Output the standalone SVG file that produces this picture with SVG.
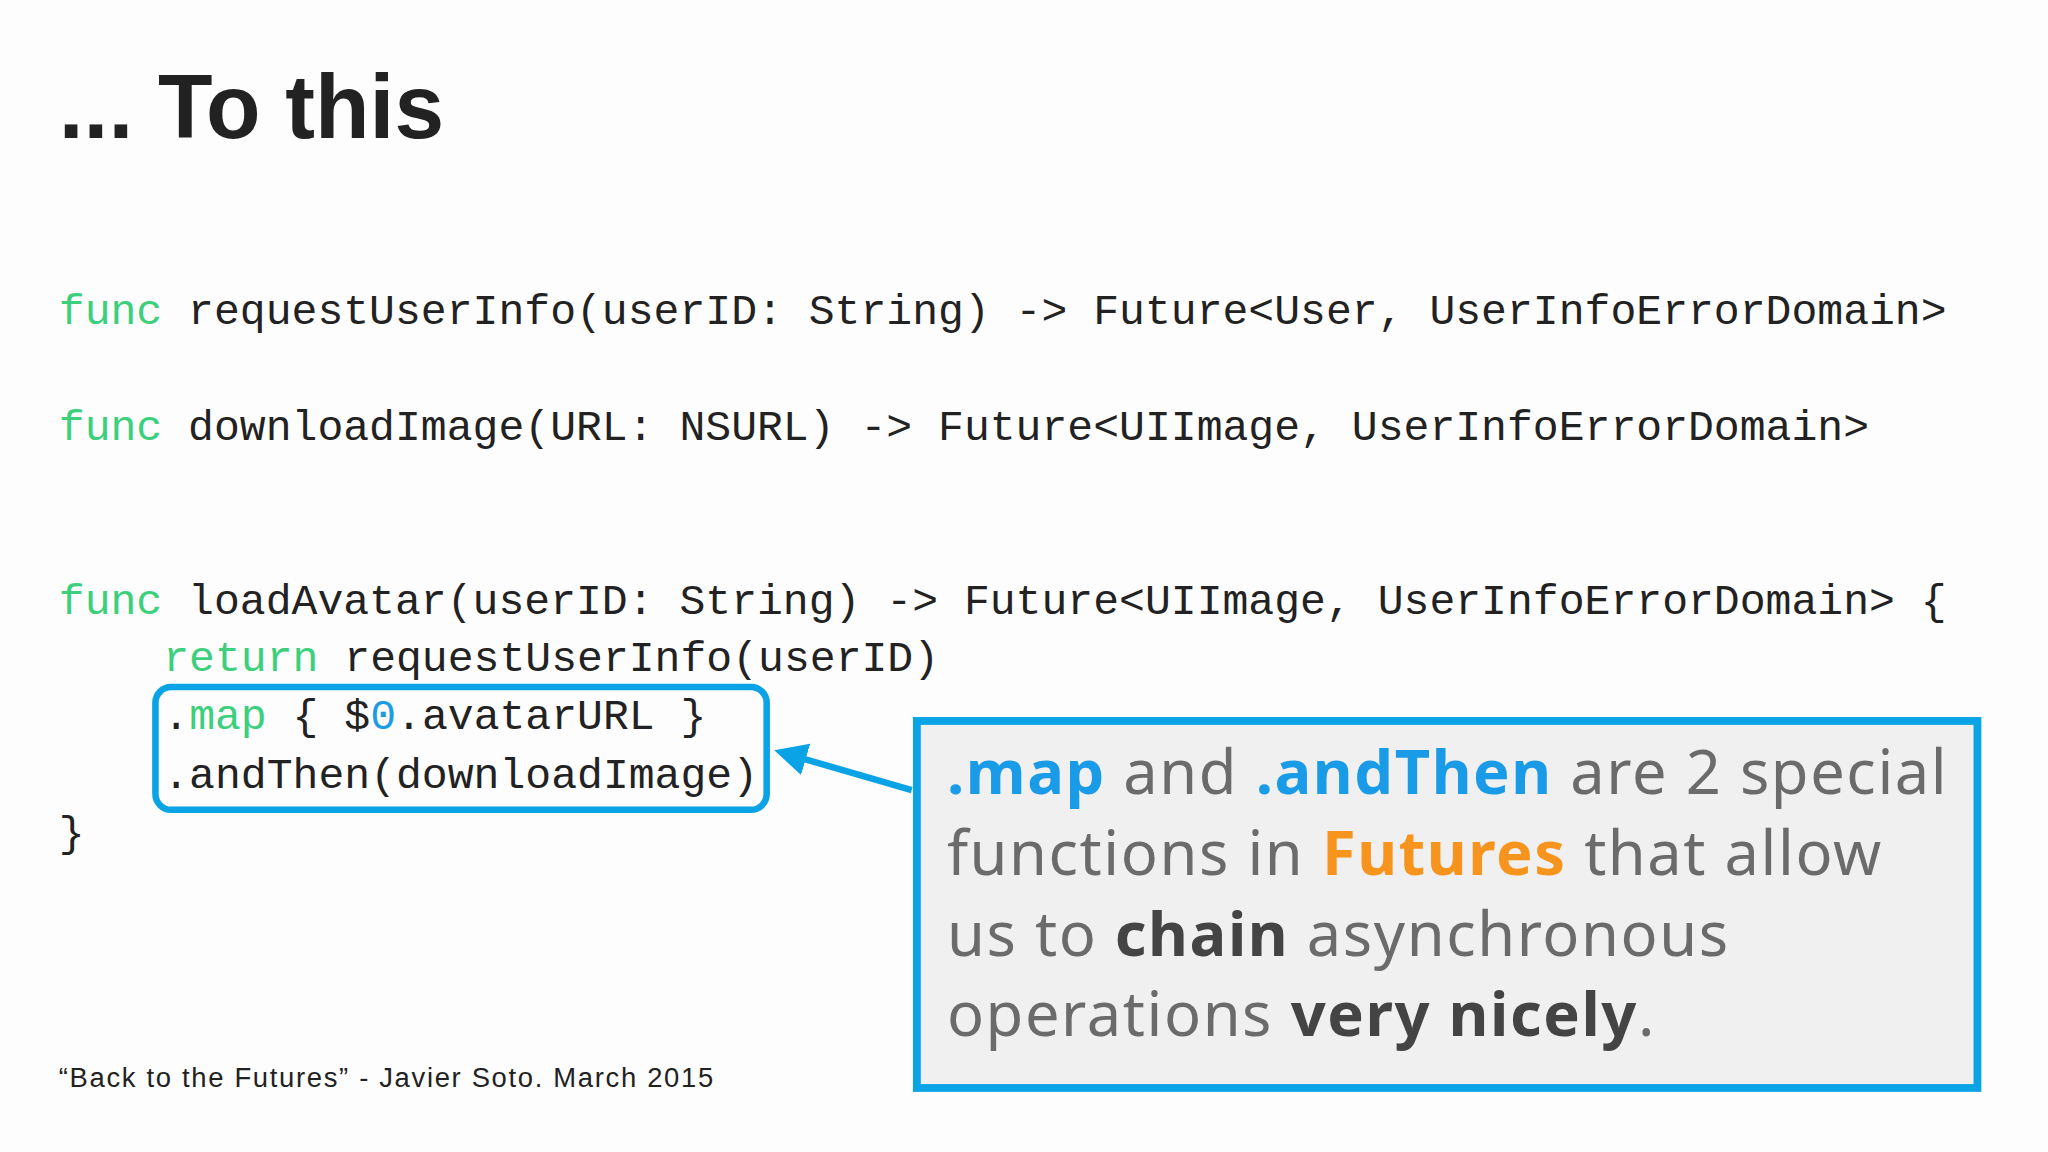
<svg xmlns="http://www.w3.org/2000/svg" width="2048" height="1152" viewBox="0 0 2048 1152">
<style>
.code{font-family:"Liberation Mono","DejaVu Sans Mono",monospace;font-size:33px;fill:#222}
.kw{fill:#3ccf7c}
.blue{fill:#1a9be8}
.call{font-family:"Noto Sans","Open Sans",sans-serif;font-size:47px;fill:#6b6b6b;letter-spacing:1.2px}
.b{font-weight:bold;fill:#444}
</style>
<defs><marker id="ah" viewBox="0 0 10 10" refX="2" refY="5" markerWidth="5" markerHeight="5" orient="auto"><path d="M0,0 L10,5 L0,10 z" fill="#0aa3e6"/></marker></defs>
<rect width="2048" height="1152" fill="#fdfdfe"/>
<g transform="scale(1.3061)">
<g id="title"><text x="45" y="106" font-family="Liberation Sans,sans-serif" font-weight="bold" font-size="70" fill="#222" textLength="295" lengthAdjust="spacingAndGlyphs">... To this</text></g>
<g id="code">
<text class="code" x="45" y="248" xml:space="preserve"><tspan class="kw">func</tspan> requestUserInfo(userID: String) -&gt; Future&lt;User, UserInfoErrorDomain&gt;</text>
<text class="code" x="45" y="337" xml:space="preserve"><tspan class="kw">func</tspan> downloadImage(URL: NSURL) -&gt; Future&lt;UIImage, UserInfoErrorDomain&gt;</text>
<text class="code" x="45" y="470" xml:space="preserve"><tspan class="kw">func</tspan> loadAvatar(userID: String) -&gt; Future&lt;UIImage, UserInfoErrorDomain&gt; {</text>
<text class="code" x="125" y="514" xml:space="preserve"><tspan class="kw">return</tspan> requestUserInfo(userID)</text>
<text class="code" x="125" y="558" xml:space="preserve">.<tspan class="kw">map</tspan> { $<tspan class="blue">0</tspan>.avatarURL }</text>
<text class="code" x="125" y="603" xml:space="preserve">.andThen(downloadImage)</text>
<text class="code" x="45" y="648">}</text>
</g>
<g id="highlight"><rect x="119" y="526" width="468" height="94" rx="12" fill="none" stroke="#0aa3e6" stroke-width="5"/></g>
<g id="connectors"><line x1="698" y1="605" x2="612" y2="580" stroke="#0aa3e6" stroke-width="5" marker-end="url(#ah)"/></g>
<g id="callout">
<rect x="702" y="552" width="812" height="281" fill="#f0f0f1" stroke="#0aa3e6" stroke-width="6"/>
<text class="call" x="725" y="608"><tspan class="blue" font-weight="bold">.map</tspan> and <tspan class="blue" font-weight="bold">.andThen</tspan> are 2 special</text>
<text class="call" x="725" y="670">functions in <tspan font-weight="bold" fill="#f7941d">Futures</tspan> that allow</text>
<text class="call" x="725" y="732">us to <tspan class="b">chain</tspan> asynchronous</text>
<text class="call" x="725" y="793">operations <tspan class="b">very nicely</tspan>.</text>
</g>
<g id="footer"><text x="45" y="832" font-family="Liberation Sans,sans-serif" font-size="21" fill="#222" textLength="501">“Back to the Futures” - Javier Soto. March 2015</text></g>
</g>
</svg>
